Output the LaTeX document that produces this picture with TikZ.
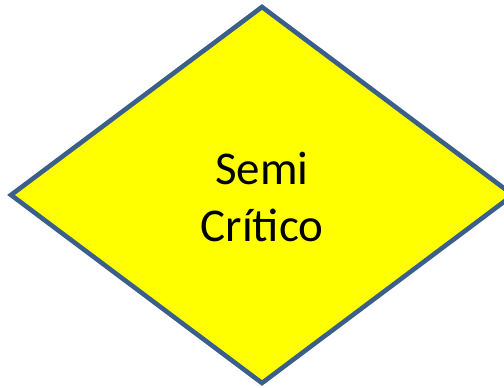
\documentclass[tikz,border=0pt]{standalone}
\usepackage{fontspec}
\setmainfont{Carlito}
\definecolor{outline}{HTML}{3A5F8B}
\definecolor{fillyellow}{HTML}{FFFF00}
\begin{document}
\begin{tikzpicture}[x=1pt,y=1pt,
  decision/.style={draw=outline,fill=fillyellow,line width=4.6pt,line join=miter},
  label/.style={align=center,font=\fontsize{47}{57}\selectfont,text=black}]
\useasboundingbox (0,0) rectangle (504,388);
\coordinate (t) at (262,381);
\coordinate (r) at (513,193);
\coordinate (b) at (262,5);
\coordinate (l) at (11,193);
\draw[decision] (t) -- (r) -- (b) -- (l) -- cycle;
\node[label] (txt) at (262,191) {Semi\\Crítico};
\end{tikzpicture}
\end{document}
